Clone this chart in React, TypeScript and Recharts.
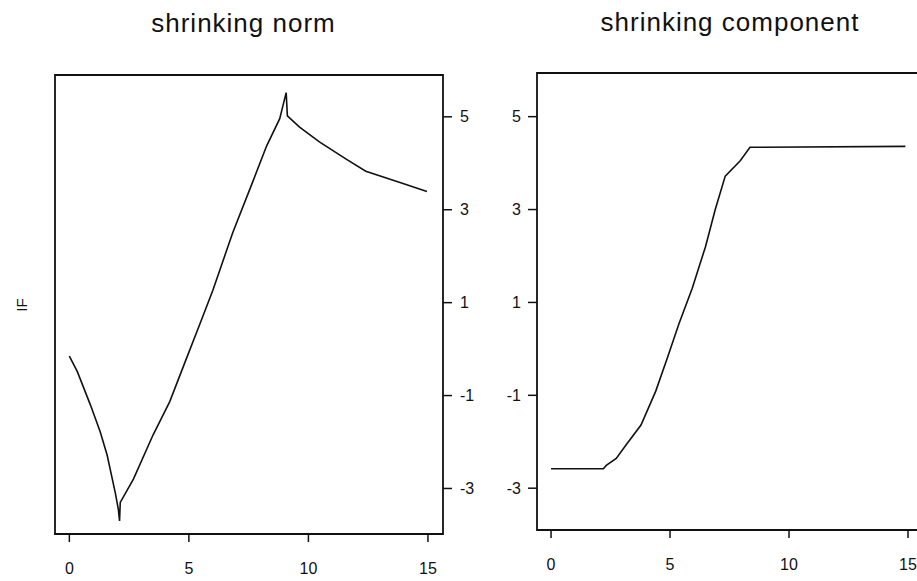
import { LineChart, Line, XAxis, YAxis, ReferenceArea } from 'recharts';

const font = '"Liberation Sans", Arial, sans-serif';

// axis ticks shared by both panels
const xTicks = [0, 5, 10, 15];
const yTicks = [-3, -1, 1, 3, 5];

// left panel: shrinking norm
const normX = [0, 0.33, 0.88, 1.29, 1.58, 1.92, 2.05, 2.1, 2.13, 2.68, 3.5, 4.2, 4.9, 5.46, 6.0, 6.83, 7.67, 8.25, 8.8, 9.07, 9.12, 9.63, 10.46, 11.58, 12.4, 13.8, 14.96];
const normY = [-0.15, -0.48, -1.2, -1.78, -2.28, -3.09, -3.45, -3.7, -3.3, -2.8, -1.85, -1.13, -0.2, 0.54, 1.26, 2.5, 3.6, 4.37, 4.96, 5.52, 5.02, 4.78, 4.46, 4.09, 3.83, 3.59, 3.39];

// right panel: shrinking component
const compX = [0, 2.2, 2.32, 2.74, 3.15, 3.78, 4.4, 4.89, 5.375, 5.93, 6.49, 6.9, 7.32, 7.95, 8.36, 14.89];
const compY = [-2.58, -2.58, -2.51, -2.36, -2.07, -1.64, -0.91, -0.19, 0.54, 1.3, 2.2, 3.0, 3.72, 4.05, 4.34, 4.36];

const normData = normX.map((x, i) => ({ x, y: normY[i] }));
const compData = compX.map((x, i) => ({ x, y: compY[i] }));

const tickStyle = { fontSize: 16, fill: '#111', fontFamily: font };
const lineStyle = { stroke: '#111', strokeWidth: 1.5 };

export default function App() {
  return (
    <div style={{ position: 'absolute', left: 0, top: 0, width: 917, height: 581, overflow: 'hidden', background: '#fff' }}>
      <svg width={917} height={581} style={{ position: 'absolute', left: 0, top: 0 }}>
        <text x={243.5} y={32} textAnchor="middle" fontSize={26} letterSpacing={1} fontFamily={font} fill="#111">shrinking norm</text>
        <text x={730} y={31} textAnchor="middle" fontSize={26} letterSpacing={1} fontFamily={font} fill="#111">shrinking component</text>
        <text x={27} y={305} textAnchor="middle" fontSize={15} fontFamily={font} fill="#111" transform="rotate(-90 27 305)">IF</text>
      </svg>

      <div style={{ position: 'absolute', left: 0, top: 0 }}>
        <LineChart width={500} height={581} data={normData} margin={{ top: 75, left: 55, right: 17, bottom: 0 }}>
          <XAxis dataKey="x" type="number" domain={[-0.6, 15.63]} ticks={xTicks} allowDataOverflow
            height={47} axisLine={false} tickSize={8} tickMargin={21} tickLine={lineStyle} tick={tickStyle} />
          <YAxis type="number" orientation="right" domain={[-3.98, 5.9]} ticks={yTicks} allowDataOverflow
            width={40} axisLine={false} tickSize={9} tickMargin={8} tickLine={lineStyle} tick={tickStyle} />
          <ReferenceArea x1={-0.6} x2={15.63} y1={-3.98} y2={5.9} fill="none" stroke="#111" strokeWidth={1.8} />
          <Line type="linear" dataKey="y" stroke="#111" strokeWidth={1.6} dot={false} isAnimationActive={false} />
        </LineChart>
      </div>

      <div style={{ position: 'absolute', left: 460, top: 0 }}>
        <LineChart width={500} height={581} data={compData} margin={{ top: 73, left: 0, right: 37, bottom: 0 }}>
          <XAxis dataKey="x" type="number" domain={[-0.59, 15.63]} ticks={xTicks} allowDataOverflow
            height={51} axisLine={false} tickSize={8} tickMargin={21} tickLine={lineStyle} tick={tickStyle} />
          <YAxis type="number" domain={[-3.9, 5.94]} ticks={yTicks} allowDataOverflow
            width={77} axisLine={false} tickSize={9} tickMargin={7} tickLine={lineStyle} tick={tickStyle} />
          <ReferenceArea x1={-0.59} x2={15.63} y1={-3.9} y2={5.94} fill="none" stroke="#111" strokeWidth={1.8} />
          <Line type="linear" dataKey="y" stroke="#111" strokeWidth={1.6} dot={false} isAnimationActive={false} />
        </LineChart>
      </div>
    </div>
  );
}
